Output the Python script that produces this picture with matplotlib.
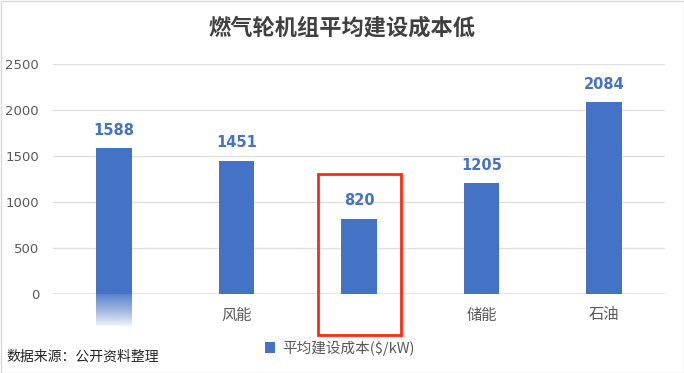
import numpy as np
import matplotlib
matplotlib.use("Agg")
from matplotlib import pyplot as plt
from matplotlib.patches import Rectangle

plt.rcParams['font.family'] = ['Noto Sans CJK SC', 'DejaVu Sans']

categories = ["", "风能", "", "储能", "石油"]
costs = [1588, 1451, 820, 1205, 2084]
yticks = [0, 500, 1000, 1500, 2000, 2500]

title = "燃气轮机组平均建设成本低"
legend_label = "平均建设成本($/kW)"
source = "数据来源：公开资料整理"

blue = "#4472C4"
grid_c = "#e0e0e0"

fig = plt.figure(figsize=(6.84, 3.73), dpi=100)
ax = fig.add_axes([53 / 684, 1 - 294 / 373, 612 / 684, 230 / 373])

x = np.arange(len(categories))
bars = ax.bar(x, costs, width=0.29, color=blue, zorder=3, label=legend_label)
for xi, v in zip(x, costs):
    ax.text(xi, v + 110, str(v), ha="center", va="bottom", fontsize=10.5,
            fontweight="bold", color=blue, family="DejaVu Sans")

ax.set_xlim(-0.5, len(categories) - 0.5)
ax.set_ylim(0, 2500)
ax.set_yticks(yticks)
ax.set_yticklabels([str(t) for t in yticks], fontsize=9.5, color="#595959",
                   family="DejaVu Sans")
ax.set_xticks(x)
ax.set_xticklabels(categories, fontsize=11, color="#595959")
ax.tick_params(axis="both", length=0)
ax.tick_params(axis="x", pad=9)
ax.tick_params(axis="y", pad=10)
ax.grid(axis="y", color=grid_c, linewidth=1, zorder=0)
for s in ax.spines.values():
    s.set_visible(False)
ax.axhline(0, color=grid_c, linewidth=1.2, zorder=1)

# faded smear under the first bar
grad = np.linspace(0, 1, 100)
img = np.zeros((100, 1, 4))
img[..., 0] = 0x44 / 255
img[..., 1] = 0x72 / 255
img[..., 2] = 0xC4 / 255
img[:, 0, 3] = (1 - grad) ** 0.8 * 0.9
ax.imshow(img, extent=(x[0] - 0.145, x[0] + 0.145, -360, 0), aspect="auto",
          clip_on=False, zorder=2, interpolation="bilinear")
ax.set_ylim(0, 2500)

fig.text(0.5, 1 - 28 / 373, title, ha="center", va="center", fontsize=16,
         fontweight="bold", color="#404040")

fig.legend(handles=[bars], labels=[legend_label], loc="center",
           bbox_to_anchor=(340 / 684, 1 - 348 / 373), frameon=False,
           fontsize=10.5, handlelength=0.7, handleheight=0.7,
           handletextpad=0.5, labelcolor="#595959")

fig.text(6 / 684, 1 - 357 / 373, source, ha="left", va="center",
         fontsize=10, color="#262626")

# red highlight box
fig.patches.append(Rectangle((318 / 684, 1 - 335 / 373), 83 / 684, 161 / 373,
                             transform=fig.transFigure, fill=False,
                             edgecolor="#ff2a10", linewidth=2))
# outer border
fig.patches.append(Rectangle((0.5 / 684, 0.5 / 373), 683 / 684, 372 / 373,
                             transform=fig.transFigure, fill=False,
                             edgecolor="#d9d9d9", linewidth=1))

fig.savefig("out.png", dpi=100)
